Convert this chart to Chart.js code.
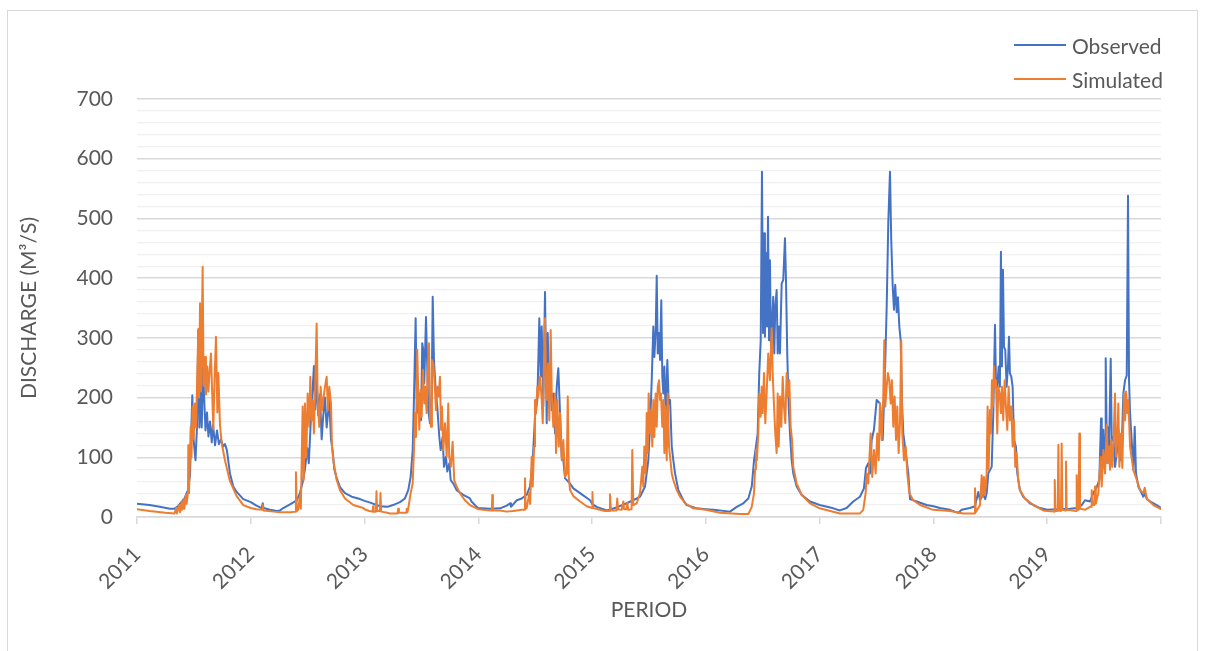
<!DOCTYPE html>
<html>
<head>
<meta charset="utf-8">
<script src="https://cdn.jsdelivr.net/npm/chart.js@4.4.1/dist/chart.umd.min.js"></script>
<style>
html,body{margin:0;padding:0;background:#fff;}
#wrap{position:relative;width:1205px;height:651px;overflow:hidden;}
#frame{position:absolute;left:7px;top:10px;width:1191px;height:660px;border:1px solid #d9d9d9;box-sizing:border-box;}
#c{position:absolute;left:0;top:0;}
#legend{position:absolute;left:1014px;top:28px;font-family:Lato,"Open Sans",sans-serif;font-size:21px;color:#595959;}
#legend .item{display:flex;align-items:center;height:34px;white-space:nowrap;}
#legend .sw{display:inline-block;width:52px;height:2px;margin-right:6px;}
</style>
</head>
<body>
<div id="wrap">
<div id="frame"></div>
<canvas id="c" width="1205" height="651"></canvas>
<div id="legend"></div>
</div>
<script>
// Each pair: [fraction of the year, discharge m3/s]
const years = [2011,2012,2013,2014,2015,2016,2017,2018,2019];
const yTickLabels = [0,100,200,300,400,500,600,700];

const obs2011 = [[0,22],[.11,20],[.2,17],[.29,14],[.33,14],[.36,18],[.395,26],[.42,32],[.448,45],[.466,70],[.486,204],[.497,130],[.514,95],[.527,150],[.539,313],[.548,150],[.56,212],[.569,150],[.58,250],[.589,205],[.602,145],[.615,175],[.628,135],[.642,160],[.657,125],[.668,155],[.686,120],[.703,145],[.72,122],[.738,130],[.756,118],[.773,122],[.79,112],[.817,73],[.846,51],[.876,42],[.934,30]];
const sim2011 = [[0,13],[.11,10],[.25,7],[.33,6],[.345,15],[.35,6],[.372,20],[.378,8],[.392,25],[.398,12],[.41,30],[.416,14],[.43,38],[.436,22],[.448,40],[.451,120],[.457,40],[.472,151],[.479,100],[.488,185],[.497,130],[.51,190],[.519,150],[.539,315],[.545,200],[.554,358],[.563,210],[.577,419],[.585,220],[.598,268],[.606,205],[.618,252],[.627,210],[.637,240],[.65,274],[.662,200],[.671,147],[.68,220],[.694,302],[.706,175],[.715,241],[.729,155],[.744,124],[.773,95],[.817,60],[.876,35],[.934,20]];

const obs2012 = [[0,25],[.05,19],[.096,15],[.105,23],[.112,15],[.169,12],[.228,10],[.257,11],[.286,15],[.345,21],[.404,28],[.432,40],[.456,58],[.476,80],[.497,115],[.51,90],[.526,155],[.54,200],[.555,253],[.567,180],[.579,230],[.593,170],[.608,205],[.623,130],[.637,170],[.652,200],[.667,150],[.69,195],[.705,130],[.72,110],[.734,80],[.755,65],[.784,50],[.828,40],[.887,34],[.96,30]];
const sim2012 = [[0,15],[.05,13],[.1,12],[.105,20],[.11,11],[.2,9],[.26,8],[.35,8],[.39,9],[.397,75],[.405,10],[.418,12],[.432,37],[.44,14],[.456,185],[.465,62],[.476,190],[.488,100],[.5,207],[.514,151],[.523,235],[.535,162],[.544,196],[.555,140],[.567,229],[.579,324],[.588,196],[.602,151],[.614,218],[.628,179],[.637,196],[.652,218],[.667,235],[.678,179],[.69,218],[.705,190],[.714,118],[.725,95],[.74,79],[.755,62],[.784,45],[.828,31],[.901,20],[.989,15]];

const obs2013 = [[0,27],[.05,24],[.135,18],[.2,17],[.25,20],[.311,25],[.355,31],[.384,45],[.405,67],[.423,112],[.434,196],[.449,333],[.458,200],[.472,174],[.481,207],[.496,162],[.507,291],[.516,280],[.525,224],[.54,335],[.551,252],[.56,179],[.575,157],[.59,207],[.599,369],[.61,263],[.625,213],[.639,185],[.657,134],[.669,112],[.686,134],[.698,84],[.715,101],[.727,76],[.745,90],[.757,62],[.78,56],[.809,45],[.867,37],[.926,31],[.94,26],[.985,17]];
const sim2013 = [[0,13],[.04,10],[.07,9],[.075,18],[.08,9],[.1,9],[.105,43],[.11,10],[.135,10],[.14,40],[.146,9],[.2,7],[.223,6],[.29,6],[.296,14],[.302,7],[.365,7],[.37,14],[.376,8],[.384,14],[.405,40],[.423,56],[.434,112],[.443,174],[.452,134],[.463,280],[.472,207],[.481,146],[.493,213],[.502,168],[.513,246],[.525,190],[.533,218],[.546,174],[.555,246],[.566,291],[.575,168],[.584,151],[.592,263],[.604,257],[.616,224],[.628,179],[.639,218],[.651,202],[.663,235],[.672,146],[.68,185],[.692,112],[.707,157],[.722,101],[.736,190],[.744,101],[.759,84],[.774,126],[.788,62],[.809,51],[.838,40],[.882,28],[.926,20],[.985,14.5]];

const obs2014 = [[0,15],[.103,14],[.191,14.5],[.25,19],[.279,23],[.287,17],[.338,28],[.381,31],[.425,37],[.454,51],[.478,95],[.498,168],[.519,196],[.536,333],[.548,235],[.557,319],[.571,185],[.586,377],[.601,157],[.61,308],[.621,207],[.63,246],[.645,179],[.659,207],[.674,140],[.689,218],[.703,249],[.718,174],[.733,101],[.747,95],[.762,65],[.806,56],[.835,48],[.894,40],[.982,28]];
const sim2014 = [[0,13],[.103,11],[.118,11],[.123,37],[.128,11],[.191,11],[.25,9],[.3,10],[.34,11],[.381,12],[.405,12],[.41,65],[.415,14],[.425,15],[.448,40],[.455,22],[.469,101],[.478,51],[.49,118],[.498,196],[.507,174],[.519,218],[.527,202],[.542,235],[.557,196],[.566,157],[.577,263],[.586,333],[.595,224],[.604,196],[.613,257],[.624,162],[.636,313],[.645,207],[.659,151],[.674,207],[.683,107],[.694,196],[.707,118],[.718,174],[.733,95],[.747,129],[.762,67],[.777,73],[.786,202],[.795,67],[.806,45],[.835,35],[.894,26],[.953,18]];

const obs2015 = [[0,22],[.04,17],[.128,11],[.216,16],[.304,23],[.392,31],[.421,34],[.465,51],[.494,95],[.509,151],[.524,229],[.538,319],[.547,268],[.559,313],[.568,404],[.577,274],[.588,308],[.597,263],[.608,363],[.617,235],[.626,207],[.635,252],[.647,168],[.661,263],[.673,190],[.685,196],[.7,118],[.714,95],[.729,73],[.758,45],[.802,28],[.831,20],[.919,14.5]];
const sim2015 = [[0,15],[.003,42],[.008,15],[.069,12],[.113,10],[.152,10],[.157,38],[.166,11],[.215,11],[.221,31],[.228,13],[.26,12],[.274,26],[.281,13],[.3,13],[.309,24],[.318,12],[.347,13],[.353,112],[.362,20],[.392,23],[.421,40],[.441,84],[.45,51],[.459,118],[.471,73],[.48,174],[.489,107],[.497,207],[.509,140],[.518,179],[.529,118],[.538,196],[.547,134],[.559,207],[.568,151],[.577,218],[.588,229],[.597,196],[.605,207],[.617,151],[.626,196],[.635,107],[.643,185],[.656,95],[.664,207],[.676,118],[.685,101],[.7,73],[.714,62],[.744,45],[.773,34],[.817,23],[.889,14.5]];

const obs2016 = [[0,13],[.065,12],[.212,9],[.271,17],[.329,23],[.373,31],[.403,51],[.423,95],[.44,118],[.455,140],[.469,241],[.482,296],[.493,578],[.502,308],[.511,475],[.519,302],[.528,442],[.537,319],[.546,503],[.555,296],[.563,430],[.572,285],[.581,319],[.592,369],[.601,274],[.61,352],[.622,380],[.631,274],[.642,319],[.651,274],[.666,391],[.68,397],[.695,467],[.704,397],[.715,274],[.728,185],[.739,140],[.754,95],[.768,73],[.798,51],[.842,37],[.915,26]];
const sim2016 = [[0,12],[.124,7],[.3,5],[.373,5],[.403,17],[.423,40],[.432,80],[.44,112],[.448,95],[.461,140],[.469,207],[.482,168],[.49,218],[.499,174],[.511,241],[.522,157],[.534,207],[.548,274],[.563,229],[.578,316],[.587,241],[.599,185],[.61,140],[.622,107],[.631,207],[.64,118],[.651,202],[.663,151],[.675,235],[.686,185],[.698,157],[.71,241],[.722,202],[.733,229],[.745,151],[.757,129],[.768,84],[.798,56],[.842,37],[.915,23]];

const obs2017 = [[0,20],[.12,14.5],[.178,11],[.237,15],[.295,26],[.354,34],[.389,48],[.407,82],[.427,90],[.442,73],[.457,129],[.477,146],[.501,196],[.53,190],[.554,129],[.574,241],[.589,352],[.603,492],[.618,578],[.629,464],[.642,386],[.653,347],[.664,389],[.677,343],[.688,368],[.7,319],[.712,296],[.723,196],[.735,140],[.75,118],[.765,95],[.779,73],[.794,30],[.853,26],[.94,20]];
const sim2017 = [[0,14.5],[.178,6],[.354,6],[.383,12],[.404,40],[.413,73],[.427,56],[.448,140],[.462,67],[.477,112],[.492,73],[.506,140],[.519,95],[.53,190],[.545,129],[.559,202],[.568,296],[.577,185],[.589,218],[.6,241],[.612,229],[.624,190],[.635,229],[.647,151],[.659,202],[.671,129],[.682,185],[.694,107],[.706,157],[.717,296],[.726,140],[.741,95],[.756,118],[.77,73],[.788,40],[.823,28],[.882,20],[.998,12]];

const obs2018 = [[0,18],[.057,15],[.145,12],[.218,7],[.248,12],[.32,15],[.365,18],[.394,42],[.409,28],[.435,38],[.455,30],[.468,40],[.482,73],[.512,84],[.526,174],[.541,322],[.549,229],[.561,218],[.573,252],[.584,218],[.593,444],[.602,252],[.611,414],[.62,285],[.631,280],[.643,218],[.655,252],[.664,302],[.672,241],[.684,235],[.696,218],[.708,129],[.725,118],[.737,73],[.76,45],[.789,34],[.848,23],[.936,15]];
const sim2018 = [[0,12],[.145,10],[.262,6],[.36,6],[.365,48],[.372,8],[.394,15],[.409,20],[.424,70],[.432,34],[.444,67],[.453,37],[.468,73],[.476,185],[.485,79],[.497,179],[.505,140],[.514,229],[.523,185],[.532,252],[.541,218],[.549,229],[.561,140],[.57,218],[.582,207],[.593,174],[.602,218],[.613,162],[.626,229],[.637,185],[.649,146],[.661,218],[.672,162],[.684,185],[.696,118],[.708,162],[.719,84],[.731,107],[.745,62],[.76,45],[.804,31],[.877,20],[.965,11]];

const obs2019 = [[0,12],[.1,13],[.2,14],[.26,15],[.303,20],[.332,28],[.376,26],[.405,40],[.435,50],[.458,62],[.473,165],[.479,73],[.493,146],[.508,90],[.514,266],[.523,129],[.534,150],[.543,110],[.558,265],[.567,129],[.581,134],[.596,84],[.611,107],[.625,146],[.64,95],[.655,118],[.669,207],[.684,229],[.699,237],[.71,538],[.719,229],[.728,174],[.742,129],[.757,79],[.769,151],[.78,73],[.801,51],[.845,34],[.86,40],[.875,30],[.904,26],[.962,20],[1,15]];
const sim2019 = [[0,10],[.06,9],[.066,62],[.072,10],[.092,10],[.098,121],[.104,11],[.121,10],[.127,123],[.133,12],[.159,11],[.165,93],[.171,12],[.253,10],[.259,70],[.265,12],[.276,12],[.282,140],[.288,14],[.332,12],[.376,17],[.385,17],[.391,45],[.398,20],[.414,20],[.42,51],[.427,22],[.449,40],[.47,101],[.479,51],[.493,112],[.508,73],[.523,154],[.532,90],[.543,118],[.552,79],[.561,129],[.572,84],[.581,118],[.596,207],[.605,101],[.616,129],[.625,190],[.634,84],[.649,140],[.66,82],[.675,207],[.684,162],[.693,210],[.704,174],[.713,196],[.728,118],[.757,79],[.787,62],[.816,45],[.845,40],[.857,49],[.875,31],[.933,20],[1,13]];

const observedByYear = [obs2011,obs2012,obs2013,obs2014,obs2015,obs2016,obs2017,obs2018,obs2019];
const simulatedByYear = [sim2011,sim2012,sim2013,sim2014,sim2015,sim2016,sim2017,sim2018,sim2019];

function toPoints(byYear){
  const out = [];
  byYear.forEach((arr, i) => arr.forEach(p => out.push({x: years[i] + p[0], y: p[1]})));
  return out;
}

const FONT = 'Lato, "Open Sans", sans-serif';
const TXT = '#595959';

const chart = new Chart(document.getElementById('c'), {
  type: 'line',
  data: {
    datasets: [
      {label:'Observed', data: toPoints(observedByYear), borderColor:'#4472C4', backgroundColor:'#4472C4', borderWidth:2, pointRadius:0, tension:0, fill:false, order:1, borderJoinStyle:'round', borderCapStyle:'round'},
      {label:'Simulated', data: toPoints(simulatedByYear), borderColor:'#ED7D31', backgroundColor:'#ED7D31', borderWidth:2, pointRadius:0, tension:0, fill:false, order:0, borderJoinStyle:'round', borderCapStyle:'round'}
    ]
  },
  options: {
    responsive:false,
    animation:false,
    events:[],
    layout:{padding:{left:0, right:44, top:99, bottom:28}},
    plugins:{legend:{display:false}, tooltip:{enabled:false}},
    scales:{
      x:{
        type:'linear', min:years[0], max:years[years.length-1]+1,
        ticks:{stepSize:1, autoSkip:false, maxRotation:45, minRotation:45, color:TXT, font:{family:FONT, size:21}, padding:18,
          callback:(v)=> years.includes(v) ? String(v) : ''},
        grid:{drawOnChartArea:false, drawTicks:true, tickLength:7, color:'#d9d9d9', lineWidth:1.5},
        border:{color:'#d9d9d9', width:1.5},
        title:{display:true, text:'PERIOD', color:TXT, font:{family:FONT, size:21}, padding:{top:0,bottom:0}},
        afterFit:(s)=>{ s.height = 106; }
      },
      y:{
        min:0, max:700,
        ticks:{stepSize:20, autoSkip:false, color:TXT, font:{family:FONT, size:21}, padding:24,
          callback:(v)=> yTickLabels.includes(v) ? String(v) : ''},
        grid:{drawTicks:false, color:(c)=> (c.tick && c.tick.value % 100 === 0) ? '#d9d9d9' : '#f0f0f0', lineWidth:(c)=> (c.tick && c.tick.value % 100 === 0) ? 1.5 : 1.2},
        border:{display:false},
        title:{display:true, text:'DISCHARGE (M³/S)', color:TXT, font:{family:FONT, size:21}, padding:{top:17,bottom:0}},
        afterFit:(s)=>{ s.width = 137; }
      }
    }
  }
});

// legend built from the chart's datasets
const legendEl = document.getElementById('legend');
chart.data.datasets.forEach(ds => {
  const row = document.createElement('div'); row.className = 'item';
  const sw = document.createElement('span'); sw.className = 'sw'; sw.style.background = ds.borderColor;
  const tx = document.createElement('span'); tx.textContent = ds.label;
  row.appendChild(sw); row.appendChild(tx); legendEl.appendChild(row);
});
</script>
</body>
</html>
